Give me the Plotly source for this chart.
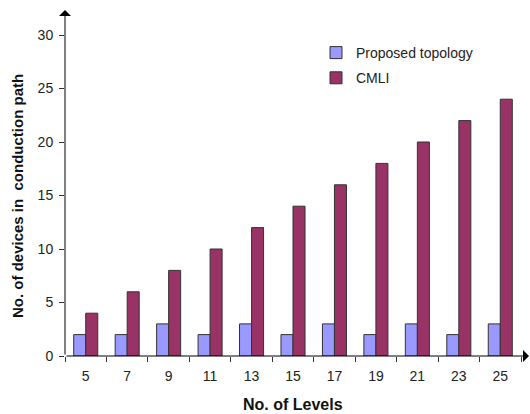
import plotly.graph_objects as go

levels = ["5", "7", "9", "11", "13", "15", "17", "19", "21", "23", "25"]
proposed = [2, 2, 3, 2, 3, 2, 3, 2, 3, 2, 3]
cmli = [4, 6, 8, 10, 12, 14, 16, 18, 20, 22, 24]
y_ticks = [0, 5, 10, 15, 20, 25, 30]

W, H = 530, 414
L, R, T, B = 65, 9, 35, 58
pw, ph = W - L - R, H - T - B
FONT = "Liberation Sans, Arial, sans-serif"
AX = "#333333"

fig = go.Figure()
fig.add_trace(go.Bar(x=levels, y=proposed, name="Proposed topology",
                     marker=dict(color="#9999FF", line=dict(color=AX, width=1)),
                     legendgroup="a"))
fig.add_trace(go.Bar(x=levels, y=cmli, name="CMLI",
                     marker=dict(color="#993366", line=dict(color=AX, width=1)),
                     legendgroup="b"))

fig.update_layout(
    width=W, height=H,
    margin=dict(l=L, r=R, t=T, b=B),
    paper_bgcolor="white", plot_bgcolor="white",
    font=dict(family=FONT, size=14, color="#222222"),
    barmode="group", bargap=0.42, bargroupgap=0,
    showlegend=True,
    legend=dict(x=(316 - L) / pw, y=1 - (37 - T) / ph, xanchor="left", yanchor="top",
                bgcolor="rgba(0,0,0,0)", font=dict(size=14, family=FONT),
                traceorder="grouped", tracegroupgap=4, itemwidth=30),
    xaxis=dict(type="category", range=[-0.5, 10.5], showline=False,
               ticks="outside", tickson="boundaries", ticklen=5, tickcolor=AX,
               ticklabelstandoff=10,
               showgrid=False, zeroline=False, tickfont=dict(size=14)),
    yaxis=dict(range=[0, 30], tickvals=y_ticks, showline=False,
               ticks="outside", ticklen=5, tickcolor=AX, ticklabelstandoff=3,
               showgrid=False, zeroline=False, tickfont=dict(size=14)),
)

# axis lines with arrowheads (drawn as annotation arrows in paper coords)
top_tip_px = 10
right_tip_px = 529
y_tip = (H - B - top_tip_px) / ph
x_tip = (right_tip_px - L) / pw
fig.add_annotation(x=0, y=y_tip, xref="paper", yref="paper",
                   ax=0, ay=H - B - top_tip_px,
                   text="", showarrow=True,
                   arrowhead=1, arrowsize=2, arrowwidth=1, arrowcolor="black")
fig.add_annotation(x=x_tip, y=0, xref="paper", yref="paper",
                   ax=-(right_tip_px - L), ay=0,
                   text="", showarrow=True,
                   arrowhead=1, arrowsize=2, arrowwidth=1, arrowcolor="black")

fig.add_annotation(x=0.5, y=-(405 - (H - B)) / ph, xref="paper", yref="paper",
                   xanchor="center", yanchor="middle",
                   text="<b>No. of Levels</b>", showarrow=False,
                   font=dict(size=16, family=FONT, color="#111111"))
fig.add_annotation(x=-(L - 18) / pw, y=1 - (196 - T) / ph, xref="paper", yref="paper",
                   xanchor="center", yanchor="middle",
                   text="<b>No. of devices in &nbsp;conduction path</b>", showarrow=False,
                   textangle=-90, font=dict(size=15, family=FONT, color="#111111"))

fig.write_html("out.html", config={"displayModeBar": False},
               post_script="document.body.style.margin='0';document.body.style.padding='0';")
